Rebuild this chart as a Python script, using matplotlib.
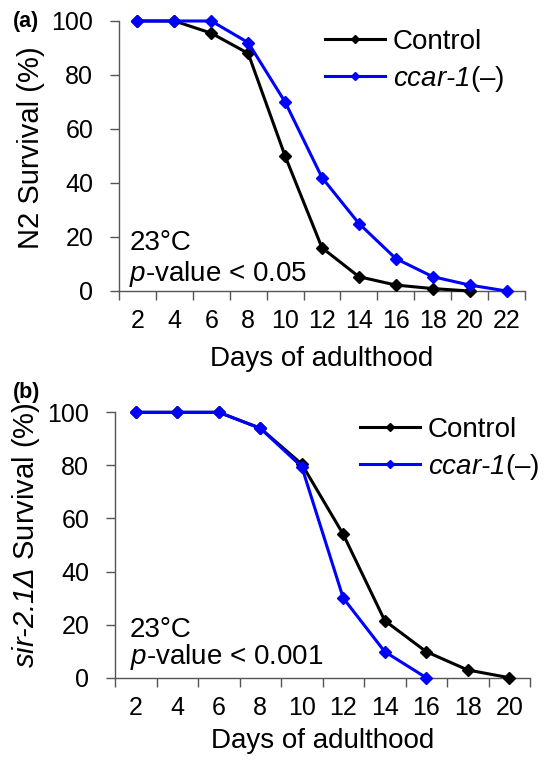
import matplotlib
matplotlib.use("Agg")
import matplotlib.pyplot as plt
from matplotlib.lines import Line2D

plt.rcParams['font.family'] = ['Liberation Sans', 'DejaVu Sans']
plt.rcParams['mathtext.fontset'] = 'custom'
plt.rcParams['mathtext.rm'] = 'Liberation Sans'
plt.rcParams['mathtext.it'] = 'Liberation Sans:italic'
plt.rcParams['mathtext.sf'] = 'Liberation Sans:italic'

# Panel (a): N2
days_a = [2, 4, 6, 8, 10, 12, 14, 16, 18, 20, 22]
control_a = [100, 100, 95.5, 88, 50, 16, 5.3, 2.2, 0.9, 0]
ccar_a = [100, 100, 100, 92, 70, 42, 25, 12, 5.3, 2.2, 0]

# Panel (b): sir-2.1
days_b = [2, 4, 6, 8, 10, 12, 14, 16, 18, 20]
control_b = [100, 100, 100, 94, 80.5, 54, 21.5, 9.8, 2.9, 0]
ccar_b = [100, 100, 100, 94, 79.5, 30, 9.8, 0]

yticks = [0, 20, 40, 60, 80, 100]
TFS = 18     # tick labels
LFS = 20     # labels, legend, annotations
BLUE = '#0000FF'
AXC = '#555555'

fig = plt.figure(figsize=(5.5, 7.6), dpi=100)

def panel(rect, days, ctrl, ccar, ylabel, pval, letter, leg_xy, ylab_xy, ann, xlpad):
    ax = fig.add_axes(rect)
    ax.plot(days[:len(ctrl)], ctrl, color='black', lw=2.2, marker='D', ms=6.5,
            clip_on=False, zorder=3)
    ax.plot(days[:len(ccar)], ccar, color=BLUE, lw=2.2, marker='D', ms=6.5,
            clip_on=False, zorder=4)
    ax.set_xlim(days[0] - 1, days[-1] + 1)
    ax.set_ylim(0, 100)
    ax.set_yticks(yticks)
    ax.set_xticks(days)
    ax.set_xticks([d - 1 for d in days] + [days[-1] + 1], minor=True)
    ax.tick_params(axis='x', which='major', length=0, pad=13, labelsize=TFS)
    ax.tick_params(axis='x', which='minor', length=6.5, width=1, color=AXC, direction='out')
    ax.tick_params(axis='y', length=6.5, width=1, color=AXC, pad=12, labelsize=TFS)
    for s in ['top', 'right']:
        ax.spines[s].set_visible(False)
    for s in ['left', 'bottom']:
        ax.spines[s].set_color(AXC)
        ax.spines[s].set_linewidth(1)
    ax.set_xlabel('Days of adulthood', fontsize=LFS, labelpad=xlpad)
    ax.set_ylabel(ylabel, fontsize=21)
    ax.yaxis.set_label_coords(*ylab_xy)
    ax.text(ann[0], ann[1], '23°C', transform=ax.transAxes, fontsize=LFS, va='baseline', ha='left')
    ax.text(ann[0], ann[2], pval, transform=ax.transAxes, fontsize=LFS, va='baseline', ha='left')
    fig.text(letter[1], letter[2], letter[0], fontsize=15.5, fontweight='bold', ha='left', va='center')
    handles = [Line2D([], [], color='black', lw=2.2, marker='D', ms=4),
               Line2D([], [], color=BLUE, lw=2.2, marker='D', ms=4)]
    ax.legend(handles, ['Control', r'$\mathsf{ccar‐1}$(–)'], loc='upper left',
              bbox_to_anchor=leg_xy, bbox_transform=fig.transFigure, frameon=False,
              fontsize=LFS, handlelength=2.16, handletextpad=0.29, labelspacing=0.33,
              borderpad=0, borderaxespad=0)
    return ax

panel([119/550, 1 - 291/760, 406/550, 270/760], days_a, control_a, ccar_a,
      'N2 Survival (%)', r'$\mathit{p}$-value < 0.05', ('(a)', 13/550, 1 - 22/760),
      (325/550, 1 - 29/760), (-0.182, 0.53), (0.025, 0.152, 0.038), 9)
panel([115/550, 1 - 677.7/760, 415/550, 265.4/760], days_b, control_b, ccar_b,
      r'$\mathsf{sir‐2.1Δ}$ Survival (%)', r'$\mathit{p}$-value < 0.001', ('(b)', 13/550, 1 - 392/760),
      (360/550, 1 - 417/760), (-0.176, 0.538), (0.036, 0.153, 0.05), 6)

fig.savefig('out.png', dpi=100)
